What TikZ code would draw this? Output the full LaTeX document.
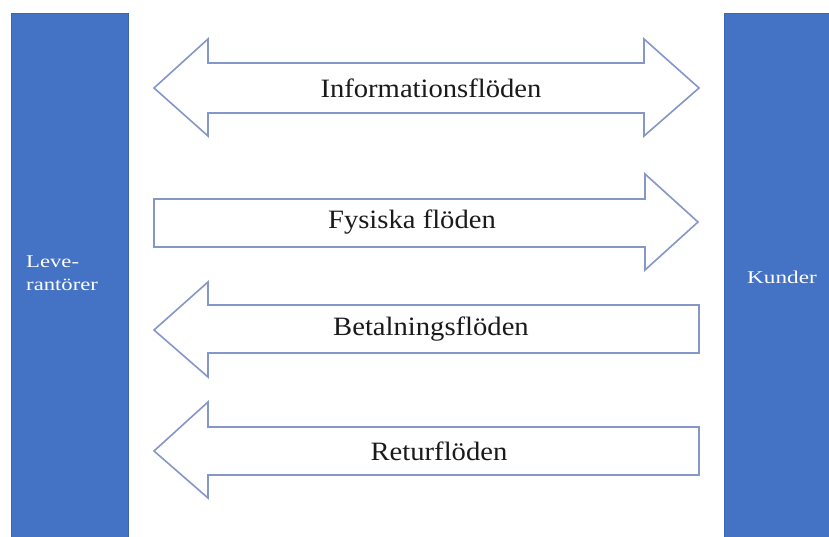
\documentclass[tikz,border=0pt]{standalone}
\usepackage{fontspec}
\setmainfont{Liberation Serif}
\definecolor{barblue}{HTML}{4472C4}
\definecolor{baredge}{HTML}{3B65B0}
\definecolor{flowedge}{HTML}{8597C8}
\definecolor{labelink}{HTML}{1A1A1A}
\begin{document}
\begin{tikzpicture}[x=1pt,y=-1pt,
  bar/.style={fill=barblue,draw=baredge,line width=0.6pt},
  flow/.style={draw=flowedge,fill=white,line width=1.6pt,line join=miter},
  flowlabel/.style={font=\fontsize{26.5}{30}\selectfont,text=labelink,inner sep=0pt},
  sidelabel/.style={font=\fontsize{18}{23}\selectfont,text=white,inner sep=0pt,align=left}]
  \useasboundingbox (0,0) rectangle (829,537);
  \fill[white] (0,0) rectangle (829,537);

  % actor bars
  \draw[bar] (11,13) rectangle (128,540);
  \draw[bar] (724,13) rectangle (832,540);
  \node[sidelabel,anchor=north west] (lev) at (26,256)
    {\scalebox{1.26}[1]{Leve-}\\\scalebox{1.26}[1]{rantörer}};
  \node[sidelabel,anchor=center] (kund) at (782,277) {\scalebox{1.29}[1]{Kunder}};

  % information flow (both directions)
  \draw[flow] (154,88) -- (208,39) -- (208,63) -- (644,63) -- (644,39) -- (699,88)
    -- (644,136) -- (644,113) -- (208,113) -- (208,136) -- cycle;
  \node[flowlabel] (info) at (431,88) {\scalebox{1.08}[1]{Informationsflöden}};

  % physical flow towards customers
  \draw[flow] (154,199) -- (645,199) -- (645,174) -- (698,222) -- (645,270)
    -- (645,247) -- (154,247) -- cycle;
  \node[flowlabel] (fys) at (412,222) {\scalebox{1.08}[1]{Fysiska flöden}};

  % payment flow towards suppliers
  \draw[flow] (154,330) -- (208,282) -- (208,305) -- (699,305) -- (699,353)
    -- (208,353) -- (208,377) -- cycle;
  \node[flowlabel] (bet) at (431,329) {\scalebox{1.08}[1]{Betalningsflöden}};

  % return flow towards suppliers
  \draw[flow] (154,451) -- (208,402) -- (208,427) -- (699,427) -- (699,475)
    -- (208,475) -- (208,498) -- cycle;
  \node[flowlabel] (ret) at (439,451) {\scalebox{1.08}[1]{Returflöden}};
\end{tikzpicture}
\end{document}
